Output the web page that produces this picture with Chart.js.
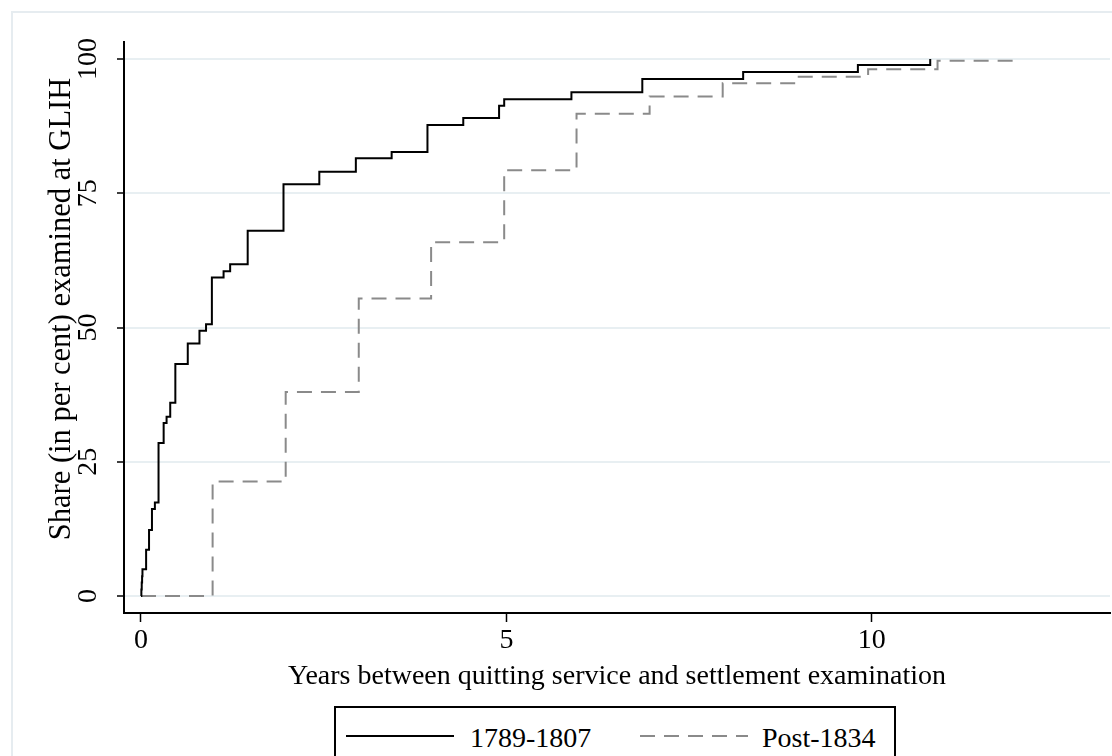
<!DOCTYPE html>
<html>
<head>
<meta charset="utf-8">
<script src="https://cdn.jsdelivr.net/npm/chart.js@4.4.1/dist/chart.umd.min.js"></script>
<style>
html,body{margin:0;padding:0;background:#fff;overflow:hidden;width:1112px;height:756px;}
#wrap{position:relative;width:1112px;height:756px;overflow:hidden;}
#frame{position:absolute;left:11px;top:11px;width:1300px;height:900px;border-top:2px solid #e6ecf0;border-left:2px solid #e6ecf0;}
#c{position:absolute;left:0;top:0;}
#legend{position:absolute;left:334px;top:706px;width:558px;height:80px;border:2px solid #000;background:#fff;
  font-family:'Liberation Serif','Times New Roman',serif;font-size:28px;color:#000;}
#legend .item{position:absolute;top:13px;line-height:34px;white-space:nowrap;}
#legend svg{position:absolute;top:0;}
</style>
</head>
<body>
<div id="wrap">
  <div id="frame"></div>
  <canvas id="c" width="1112" height="756"></canvas>
  <div id="legend"></div>
</div>
<script>
// ---- data ----
const solidLabel = '1789-1807';
const dashedLabel = 'Post-1834';
const solidYears = [0, 0.005, 0.01, 0.015, 0.02, 0.07, 0.11, 0.15, 0.19, 0.24, 0.31, 0.35, 0.40, 0.47, 0.64, 0.80, 0.89, 0.97, 1.13, 1.22, 1.46, 1.95, 2.44, 2.94, 3.43, 3.92, 4.41, 4.90, 4.97, 5.89, 6.86, 8.24, 9.81, 10.80];
const solidShare = [0, 1.2, 2.5, 3.7, 5.0, 8.6, 12.3, 16.2, 17.4, 28.5, 32.2, 33.4, 36.0, 43.2, 47.0, 49.4, 50.6, 59.3, 60.5, 61.8, 68.0, 76.7, 79.0, 81.5, 82.7, 87.7, 89.0, 91.3, 92.5, 93.8, 96.3, 97.6, 98.9, 100];
const dashedYears = [0, 0.98, 1.98, 2.98, 3.97, 4.97, 5.96, 6.96, 7.96, 8.97, 9.95, 10.90, 11.96];
const dashedShare = [0, 21.3, 38.0, 55.4, 65.9, 79.3, 89.8, 93.0, 95.5, 96.7, 98.1, 99.7, 100];
const xTicks = [0, 5, 10];
const yTicks = [0, 25, 50, 75, 100];
const xTitle = 'Years between quitting service and settlement examination';
const yTitle = 'Share (in per cent) examined at GLIH';

// ---- chart ----
const FONT = "'Liberation Serif', 'Times New Roman', serif";
Chart.defaults.font.family = FONT;
Chart.defaults.color = '#000';

const toPts = (xs, ys) => xs.map((x, i) => ({x: x, y: ys[i]}));

// y-axis title drawn as real canvas text, centred where the reference places it
const yTitlePlugin = {
  id: 'yTitle',
  afterDraw(chart) {
    const ctx = chart.ctx;
    ctx.save();
    ctx.translate(62, 309);
    ctx.rotate(-Math.PI / 2);
    ctx.font = "30.5px " + FONT;
    ctx.fillStyle = '#000';
    ctx.textAlign = 'center';
    ctx.textBaseline = 'middle';
    ctx.fillText(yTitle, 0, 0);
    ctx.restore();
  }
};

new Chart(document.getElementById('c'), {
  type: 'line',
  data: {
    datasets: [
      {label: solidLabel, data: toPts(solidYears, solidShare), borderColor: '#000', borderWidth: 2,
       stepped: 'before', pointRadius: 0, fill: false},
      {label: dashedLabel, data: toPts(dashedYears, dashedShare), borderColor: '#8a8a8a', borderWidth: 2,
       borderDash: [15, 9], stepped: 'before', pointRadius: 0, fill: false}
    ]
  },
  plugins: [yTitlePlugin],
  options: {
    responsive: false,
    animation: false,
    devicePixelRatio: 1,
    layout: {padding: {top: 42, right: 2, left: 0, bottom: 0}},
    plugins: {legend: {display: false}, title: {display: false}, tooltip: {enabled: false}},
    scales: {
      x: {
        type: 'linear', min: -0.2326, max: 13.26,
        afterBuildTicks: s => { s.ticks = xTicks.map(v => ({value: v})); },
        afterFit: s => { s.height = 143; },
        ticks: {font: {size: 28}, color: '#000', padding: 2, maxRotation: 0, minRotation: 0,
                callback: v => String(v)},
        grid: {drawOnChartArea: false, drawTicks: true, tickLength: 9, tickColor: '#000', tickWidth: 1.5},
        border: {display: true, color: '#000', width: 2},
        title: {display: true, text: xTitle, font: {size: 28}, color: '#000', padding: {top: 0, bottom: 63}}
      },
      y: {
        type: 'linear', min: -3.166, max: 103.17,
        afterBuildTicks: s => { s.ticks = yTicks.map(v => ({value: v})); },
        afterFit: s => { s.width = 124; },
        ticks: {font: {size: 28}, color: '#000', padding: 7, minRotation: 90, maxRotation: 90,
                crossAlign: 'center', callback: v => String(v)},
        grid: {color: '#e8eff2', lineWidth: 2, drawTicks: true, tickLength: 7, tickColor: '#000', tickWidth: 1.5},
        border: {display: true, color: '#000', width: 2},
        title: {display: false}
      }
    }
  }
});

// ---- legend (HTML) ----
const lg = document.getElementById('legend');
function sample(left, dashed) {
  const ns = 'http://www.w3.org/2000/svg';
  const svg = document.createElementNS(ns, 'svg');
  svg.setAttribute('width', '108'); svg.setAttribute('height', '60');
  svg.style.left = left + 'px';
  const ln = document.createElementNS(ns, 'line');
  ln.setAttribute('x1', '0'); ln.setAttribute('x2', '108');
  ln.setAttribute('y1', '28'); ln.setAttribute('y2', '28');
  ln.setAttribute('stroke', dashed ? '#8a8a8a' : '#000');
  ln.setAttribute('stroke-width', '2');
  if (dashed) ln.setAttribute('stroke-dasharray', '15 9');
  svg.appendChild(ln);
  lg.appendChild(svg);
}
function label(left, text) {
  const d = document.createElement('div');
  d.className = 'item'; d.style.left = left + 'px'; d.textContent = text;
  lg.appendChild(d);
}
sample(10, false); label(134, solidLabel);
sample(304, true); label(426, dashedLabel);
</script>
</body>
</html>
